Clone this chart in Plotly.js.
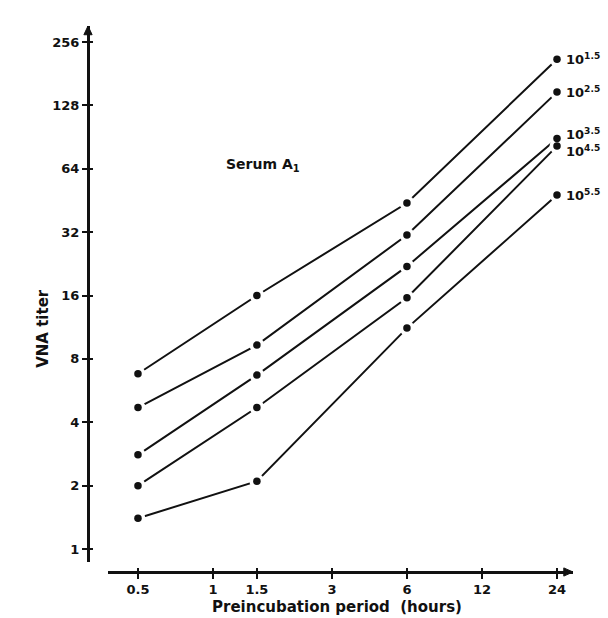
<!DOCTYPE html>
<html>
<head>
<meta charset="utf-8">
<script src="https://cdn.plot.ly/plotly-3.0.1.min.js"></script>
<style>html,body{margin:0;padding:0;background:#fff;}#chart{width:608px;height:618px;}</style>
</head>
<body>
<div id="chart"></div>
<script>
// Data
const hours = [0.5, 1.5, 6, 24];
const seriesLabels = ['10<sup>1.5</sup>', '10<sup>2.5</sup>', '10<sup>3.5</sup>', '10<sup>4.5</sup>', '10<sup>5.5</sup>'];
const titer15 = [6.8, 16, 44, 212];
const titer25 = [4.7, 9.3, 31, 148];
const titer35 = [2.8, 6.7, 22, 89];
const titer45 = [2.0, 4.7, 15.6, 82];
const titer55 = [1.4, 2.1, 11.2, 48];
const xTickVals = [0.5, 1, 1.5, 3, 6, 12, 24];
const xTickText = ['0.5', '1', '1.5', '3', '6', '12', '24'];
const yTickVals = [1, 2, 4, 8, 16, 32, 64, 128, 256];
const yTickText = ['1', '2', '4', '8', '16', '32', '64', '128', '256'];

const allSeries = [titer15, titer25, titer35, titer45, titer55];
const labelShift = [0, 0, 5, -5, 0];
const FONT = 'DejaVu Sans, Liberation Sans, Arial, sans-serif';

const traces = [];
// layer 1: connecting lines
allSeries.forEach(vals => traces.push({
  x: hours, y: vals, type: 'scatter', mode: 'lines',
  line: {color: '#111', width: 2}, hoverinfo: 'skip', showlegend: false
}));
// layer 2: white gaps around the points
allSeries.forEach(vals => traces.push({
  x: hours, y: vals, type: 'scatter', mode: 'markers',
  marker: {color: '#fff', size: 15}, hoverinfo: 'skip', showlegend: false
}));
// layer 3: black dots
allSeries.forEach(vals => traces.push({
  x: hours, y: vals, type: 'scatter', mode: 'markers',
  marker: {color: '#111', size: 7.5}, hoverinfo: 'skip', showlegend: false
}));

const xRange = [-0.4214, 1.4444];
const yRange = [-0.0617, 2.4842];

const annotations = allSeries.map((vals, i) => ({
  x: Math.log10(hours[hours.length - 1]), y: Math.log10(vals[vals.length - 1]),
  xref: 'x', yref: 'y', text: seriesLabels[i], showarrow: false,
  xanchor: 'left', yanchor: 'middle', xshift: 7, yshift: labelShift[i],
  font: {family: FONT, size: 13, color: '#111', weight: 'bold'}
}));
annotations.push({
  xref: 'paper', yref: 'paper', x: 0.361, y: 0.745, text: 'Serum A<sub>1</sub>',
  showarrow: false, xanchor: 'center', yanchor: 'middle',
  font: {family: FONT, size: 14, color: '#111', weight: 'bold'}
});
annotations.push({
  xref: 'paper', yref: 'paper', x: -0.093, y: 0.447, text: 'VNA titer', textangle: -90,
  showarrow: false, xanchor: 'center', yanchor: 'middle',
  font: {family: FONT, size: 15, color: '#111', weight: 'bold'}
});
annotations.push({
  xref: 'paper', yref: 'paper', x: 0.513, y: -0.064, text: 'Preincubation period  (hours)',
  showarrow: false, xanchor: 'center', yanchor: 'middle',
  font: {family: FONT, size: 15, color: '#111', weight: 'bold'}
});

const tickFont = {family: FONT, size: 13, color: '#111', weight: 'bold'};

const layout = {
  width: 608, height: 618,
  margin: {l: 88, r: 35, t: 26, b: 46},
  paper_bgcolor: '#fff', plot_bgcolor: '#fff',
  showlegend: false,
  xaxis: {
    type: 'log', range: xRange, domain: [0.0412, 1], anchor: 'free', position: 0,
    tickvals: xTickVals, ticktext: xTickText, tickfont: tickFont,
    ticks: 'outside', ticklen: 5, tickwidth: 2, tickcolor: '#111',
    showline: true, linecolor: '#111', linewidth: 2.5,
    showgrid: false, zeroline: false, fixedrange: true
  },
  xaxis2: {
    type: 'log', range: xRange, overlaying: 'x', anchor: 'free', position: 0,
    tickvals: xTickVals, showticklabels: false,
    ticks: 'inside', ticklen: 4, tickwidth: 2, tickcolor: '#111',
    showline: false, showgrid: false, zeroline: false
  },
  yaxis: {
    type: 'log', range: yRange, domain: [0.0183, 1], anchor: 'free', position: 0,
    tickvals: yTickVals, ticktext: yTickText, tickfont: tickFont,
    ticks: 'outside', ticklen: 5, tickwidth: 2, tickcolor: '#111',
    showline: true, linecolor: '#111', linewidth: 2.5,
    showgrid: false, zeroline: false, fixedrange: true
  },
  yaxis2: {
    type: 'log', range: yRange, overlaying: 'y', anchor: 'free', position: 0,
    tickvals: yTickVals, showticklabels: false,
    ticks: 'inside', ticklen: 4, tickwidth: 2, tickcolor: '#111',
    showline: false, showgrid: false, zeroline: false
  },
  shapes: [
    {type: 'path', xref: 'paper', yref: 'paper', path: 'M -0.0085,0.984 L 0,1 L 0.0085,0.984 Z',
     fillcolor: '#111', line: {color: '#111', width: 1}},
    {type: 'path', xref: 'paper', yref: 'paper', path: 'M 0.981,0.0075 L 1,0 L 0.981,-0.0075 Z',
     fillcolor: '#111', line: {color: '#111', width: 1}}
  ],
  annotations: annotations
};

// invisible helper trace to activate the overlay tick axes
traces.push({x: [1], y: [1], xaxis: 'x2', yaxis: 'y2', type: 'scatter', mode: 'markers',
  marker: {opacity: 0}, hoverinfo: 'skip', showlegend: false});

Plotly.newPlot('chart', traces, layout, {displayModeBar: false, staticPlot: true});
</script>
</body>
</html>
